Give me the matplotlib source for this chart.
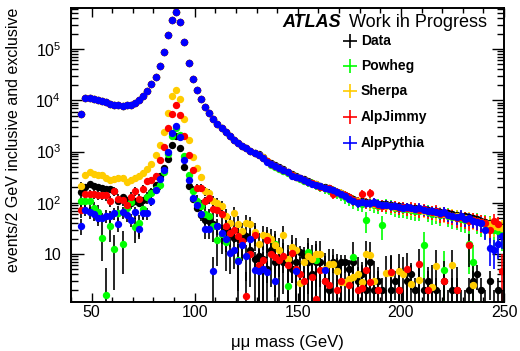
import numpy as np
import matplotlib
matplotlib.use('Agg')
import matplotlib.pyplot as plt
from matplotlib.ticker import MultipleLocator, LogLocator, NullFormatter, FuncFormatter

plt.rcParams['font.family'] = ['Liberation Sans', 'DejaVu Sans']
plt.rcParams['mathtext.fontset'] = 'custom'
plt.rcParams['mathtext.rm'] = 'Liberation Sans'
plt.rcParams['mathtext.it'] = 'Liberation Sans:italic'

nan = np.nan

# bin centres, 2 GeV bins from 44 to 250
mass = np.arange(45, 250, 2)

# --- inclusive: below 130 GeV all samples sit on top of each other ---
inc_core = [5300, 11100, 11000, 10700, 10300, 9700, 9100, 8600, 8200, 7900,
            7800, 7900, 8200, 8900, 10000, 12000, 15000, 20500, 29000, 47000,
            87000, 186000, 370000, 515000, 340000, 138000, 54000, 26500, 16000, 10500,
            7400, 5600, 4400, 3500, 2900, 2400, 2000, 1700, 1450, 1300,
            1150, 1020, 920]

# inclusive tails, 131-249 GeV
inc_tail_data = [880, 780, 660, 590, 540, 490, 450, 400, 360, 330,
                 310, 285, 265, 245, 230, 215, 200, 190, 178, 165,
                 155, 140, 128, 118, 110, 108, 104, 100, 98, 96,
                 94, 93, 90, 88, 86, 84, 83, 80, 78, 76,
                 74, 72, 70, 68, 66, 64, 62, 60, 58, 56,
                 54, 52, 50, 48, 44, 42, 40, 38, 36, 34]
inc_tail_powheg = [840, 740, 640, 540, 500, 460, 420, 380, 350, 315,
                   295, 270, 250, 240, 220, 205, 190, 180, 170, 155,
                   145, 130, 118, 108, 100, 96, 46, 100, 92, 88,
                   37, 90, 85, 80, 78, 76, 74, 72, 70, 68,
                   15, 66, 60, 62, 58, 4.9, 56, 52, 50, 48,
                   46, 16, 7, 44, 40, 38, 36, 30, 28, 27]
inc_tail_sherpa = [860, 770, 650, 570, 530, 480, 440, 400, 355, 325,
                   305, 280, 258, 240, 228, 212, 198, 188, 176, 162,
                   152, 138, 125, 115, 106, 104, 100, 98, 96, 92,
                   90, 88, 86, 84, 82, 80, 78, 76, 74, 72,
                   70, 68, 66, 64, 62, 60, 58, 56, 54, 52,
                   50, 48, 46, 44, 42, 40, 38, 36, 34, 32]
inc_tail_jimmy = [870, 760, 640, 560, 520, 480, 430, 395, 350, 320,
                  300, 278, 255, 240, 225, 205, 195, 190, 150, 165,
                  150, 140, 128, 112, 105, 150, 100, 155, 100, 92,
                  88, 90, 86, 85, 80, 82, 78, 80, 76, 72,
                  75, 68, 65, 70, 60, 62, 58, 55, 50, 52,
                  48, 45, 47, 44, 42, 40, 30, 45, 38, 4.6]
inc_tail_pythia = [850, 760, 620, 560, 520, 470, 430, 390, 340, 320,
                   300, 275, 250, 235, 225, 210, 195, 185, 175, 160,
                   150, 135, 120, 110, 100, 105, 100, 98, 103, 95,
                   90, 92, 88, 86, 82, 80, 82, 78, 75, 80,
                   72, 70, 68, 66, 62, 65, 58, 55, 52, 56,
                   48, 50, 45, 42, 40, 30, 13, 12, 16, 22]

# --- exclusive, 45-249 GeV ---
exc_data = [160, 200, 231, 210, 200, 195, 187, 182, 170, 106,
            132, 114, 100, 106, 100, 114, 127, 161, 218, 330,
            480, 700, 1350, 2000, 1170, 500, 208, 120, 79, 59,
            47, 45, 38, 35, 25, 30, 26, 21, 21, 22,
            22, 12, 8, 9, 8, 5, 12, 7, 8, 7,
            7, 5, 7, 11, 9, 7, 4, 7, 7, 3,
            2, 7, 6, 7, 7, 5, 7, 3, 4, 2,
            7, 2, 3, 2, 1, 2, 3, 2, 1, 3,
            4, 2, 1, 2, 3, 1, 2, 1, 3, 1,
            2, 2, 1, 1, 2, 3, 4, 2, 1, 3,
            1, 2, 1]
exc_powheg = [106, 110, 108, 78, 65, 21, 1.6, 35, 12.6, 62,
              16, 80, 105, 34, 40, 75, 130, 155, 186, 223,
              400, 900, 2000, 2900, 2100, 800, 350, 170, 110, 87,
              60, 54, 35, 19, 25, 17, nan, nan, 7.6, nan,
              nan, nan, nan, nan, nan, nan, nan, 16, nan, nan,
              2.4, nan, nan, nan, nan, 11, nan, 7.6, nan, nan,
              nan, nan, nan, nan, nan, nan, 8.6, nan, nan, nan,
              nan, nan, nan, nan, nan, nan, nan, nan, nan, nan,
              nan, nan, nan, nan, nan, nan, nan, nan, nan, nan,
              nan, nan, nan, nan, nan, nan, nan, nan, nan, nan,
              nan, nan, nan]
exc_sherpa = [217, 352, 390, 368, 352, 352, 310, 272, 288, 310,
              310, 249, 280, 310, 336, 380, 453, 575, 850, 1350,
              2450, 5700, 12000, 16000, 10500, 4300, 1700, 770, 475, 325,
              170, 155, 110, 100, 87, 56, 40, 63, 39, 28,
              41, 38, 27, 16, 24, 22, 20, 15, 12, 23,
              8, 14, 12, 2.7, 7, 9, 8, 10, 10, 5,
              6.5, 6.5, 4.6, 2.9, 2.8, 3.2, 3.5, 4, 2.8, 10,
              9.4, 3, nan, nan, 4.2, 4.2, nan, 4.6, 4.0, nan,
              2.6, nan, 3.1, nan, nan, 2.3, 5.9, nan, nan, nan,
              6.1, nan, nan, nan, nan, 2.5, nan, nan, nan, nan,
              nan, nan, nan]
exc_jimmy = [72, 150, 150, 146, 145, 142, 139, 110, 170, 120,
             114, 92, 132, 170, 120, 186, 263, 284, 330, 680,
             1250, 2900, 5500, 8000, 5200, 2000, 870, 440, 194, 194,
             106, 124, 75, 73, 60, 35, 26, 30, 22, 18,
             1.5, 10, 23, 6.2, 7.8, 19, 10, 8.7, 7.6, 9,
             6, 10.7, 5, 4, 3, nan, 3.5, 1.3, 4.8, 3,
             2.5, nan, 2, 3, nan, 2.5, nan, 2, 2.2, 4.8,
             2.8, nan, 2, nan, nan, 4.4, nan, 2, nan, 5.1,
             nan, nan, 6.5, nan, 2, nan, nan, nan, 3, nan,
             nan, 2, nan, nan, 15, nan, nan, nan, nan, nan,
             nan, nan, nan]
exc_pythia = [36, 73, 65, 60, 50, 50, 56, 54, 62, 39,
              65, 58, 47, 65, 31, 62, 62, 107, 180, 290,
              430, 1000, 2300, 3100, 1900, 690, 280, 124, 92, 60,
              31, 31, 4.6, 36, 26, 20, 10.7, 12, 7.3, 15,
              9, 20, 4.9, 4.6, 5.2, 4.4, nan, 3, nan, nan,
              nan, nan, 4.6, nan, nan, nan, nan, nan, nan, 4.8,
              nan, nan, nan, nan, nan, nan, nan, nan, nan, nan,
              nan, nan, nan, nan, nan, nan, nan, nan, nan, nan,
              nan, nan, nan, nan, nan, nan, nan, nan, nan, nan,
              nan, nan, nan, nan, nan, nan, nan, nan, nan, nan,
              nan, nan, nan]

names = ['Data', 'Powheg', 'Sherpa', 'AlpJimmy', 'AlpPythia']
colors = ['#000000', '#00ff00', '#ffcc00', '#ff0000', '#0000ff']
inc_tails = [inc_tail_data, inc_tail_powheg, inc_tail_sherpa, inc_tail_jimmy, inc_tail_pythia]
exc_all = [exc_data, exc_powheg, exc_sherpa, exc_jimmy, exc_pythia]
# event weight per sample (for the sqrt(w*N) errors)
weights = [1, 9, 6, 6, 4]


def errs(vals, w):
    v = np.array(vals, dtype=float)
    e = np.sqrt(w * v)
    lo = np.minimum(e, v - 1e-3)
    return v, [lo, e]


fig = plt.figure(figsize=(5.2, 3.51), dpi=100)
ax = fig.add_axes([71 / 520, 1 - 302 / 351, 433 / 520, 294 / 351])

# inclusive
for name, col, tail, w in zip(names, colors, inc_tails, weights):
    v, yerr = errs(inc_core + tail, w)
    ax.errorbar(mass, v, yerr=yerr, fmt='o', color=col, ecolor=col, ms=5.3, mew=0,
                elinewidth=1.2, capsize=0)

# exclusive (error lines left black)
for name, col, vals, w in zip(names, colors, exc_all, weights):
    v, yerr = errs(vals, w)
    ax.errorbar(mass, v, yerr=yerr, fmt='o', color=col, ecolor='black', ms=5.3, mew=0,
                elinewidth=1.2, capsize=0)

ax.set_yscale('log')
ax.set_xlim(40, 250)
ax.set_ylim(1.16, 6.3e5)

ax.xaxis.set_major_locator(MultipleLocator(50))
ax.xaxis.set_minor_locator(MultipleLocator(10))
ax.yaxis.set_major_locator(LogLocator(base=10))
ax.yaxis.set_minor_locator(LogLocator(base=10, subs=np.arange(2, 10)))
ax.yaxis.set_minor_formatter(NullFormatter())


def ylab(v, pos):
    e = int(round(np.log10(v)))
    return '10' if e == 1 else r'$10^{%d}$' % e


ax.yaxis.set_major_formatter(FuncFormatter(ylab))

ax.tick_params(which='both', direction='in', top=True, right=True, labelsize=11.5, width=1.0)
ax.tick_params(axis='x', which='major', length=6.5, pad=2)
ax.tick_params(axis='x', which='minor', length=3.5)
ax.tick_params(axis='y', which='major', length=9, pad=7)
ax.tick_params(axis='y', which='minor', length=5)
for s in ax.spines.values():
    s.set_linewidth(1.4)

fig.text(287.5 / 520, 1 - 343 / 351, r'μμ mass (GeV)', ha='center', va='center', fontsize=12)
fig.text(14 / 520, 1 - 8 / 351, 'events/2 GeV inclusive and exclusive', rotation=90,
         ha='center', va='top', fontsize=11.5)

fig.text(282 / 520, 1 - 27 / 351, 'ATLAS', fontsize=13, fontweight='bold', style='italic',
         va='baseline')
fig.text(349 / 520, 1 - 27 / 351, 'Work in Progress', fontsize=13, va='baseline')

# legend: crosses + bold labels
leg_y = [40.7, 66, 91, 117.3, 142.7]
for name, col, yy in zip(names, colors, leg_y):
    fig.lines.append(plt.Line2D([350.3 / 520], [1 - yy / 351], marker='+', ms=10, mew=1.2,
                                color=col, transform=fig.transFigure, linestyle='none'))
    fig.text(360.7 / 520, 1 - yy / 351, name, fontsize=10, fontweight='bold', va='center')

fig.savefig('out.png', dpi=100)
